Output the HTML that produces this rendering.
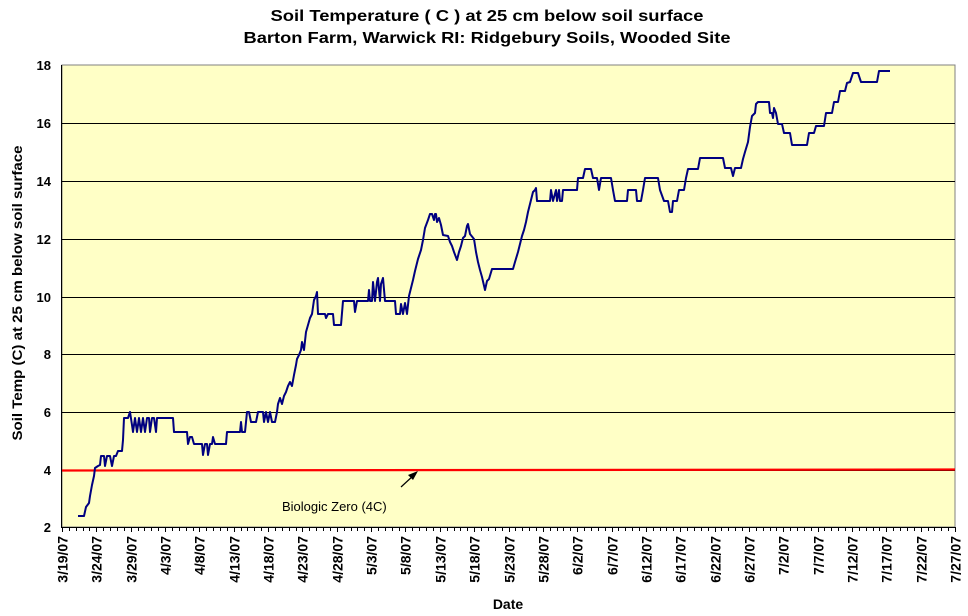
<!DOCTYPE html>
<html><head><meta charset="utf-8"><style>
html,body{margin:0;padding:0;background:#fff;}
svg{display:block;font-family:"Liberation Sans",Arial,sans-serif;}
</style></head><body>
<svg width="968" height="616" viewBox="0 0 968 616" xmlns="http://www.w3.org/2000/svg">
<text x="487" y="21" font-size="16" font-weight="bold" text-anchor="middle" textLength="433" lengthAdjust="spacingAndGlyphs">Soil Temperature ( C ) at 25 cm below soil surface</text>
<text x="487" y="43" font-size="16" font-weight="bold" text-anchor="middle" textLength="487" lengthAdjust="spacingAndGlyphs">Barton Farm, Warwick RI: Ridgebury Soils, Wooded Site</text>
<rect x="62" y="65" width="893" height="462" fill="#ffffc6" stroke="#808080" stroke-width="1"/>
<g stroke="#000" stroke-width="1">
<line x1="62" y1="123.5" x2="955" y2="123.5"/>
<line x1="62" y1="181.5" x2="955" y2="181.5"/>
<line x1="62" y1="239.5" x2="955" y2="239.5"/>
<line x1="62" y1="297.5" x2="955" y2="297.5"/>
<line x1="62" y1="354.5" x2="955" y2="354.5"/>
<line x1="62" y1="412.5" x2="955" y2="412.5"/>
<line x1="62" y1="470.5" x2="955" y2="470.5"/>
<line x1="61.5" y1="65" x2="61.5" y2="527"/>
<line x1="61" y1="527.5" x2="955" y2="527.5"/>
</g>
<g stroke="#000" stroke-width="1" id="ticks"></g>
<g font-size="13" font-weight="bold" text-anchor="end">
<text x="51" y="70">18</text><text x="51" y="128">16</text><text x="51" y="186">14</text>
<text x="51" y="244">12</text><text x="51" y="302">10</text><text x="51" y="359">8</text>
<text x="51" y="417">6</text><text x="51" y="475">4</text><text x="51" y="532">2</text>
</g>
<text transform="translate(22,293) rotate(-90)" font-size="14" font-weight="bold" text-anchor="middle" textLength="295" lengthAdjust="spacingAndGlyphs">Soil Temp (C) at 25 cm below soil surface</text>
<text x="508" y="609" font-size="14" font-weight="bold" text-anchor="middle">Date</text>
<g id="xl" font-size="14" font-weight="bold" text-anchor="end"></g>
<line x1="62" y1="470.5" x2="955" y2="469.5" stroke="#ff0000" stroke-width="2.2"/>
<line x1="401" y1="487" x2="414" y2="475" stroke="#000" stroke-width="1.2"/>
<polygon points="418,471 408,475 413,480" fill="#000"/>
<text x="282" y="511" font-size="13">Biologic Zero (4C)</text>
<polyline fill="none" stroke="#000080" stroke-width="2" stroke-linejoin="round" points="
78,516 84,516 86,507 89,503 90,496 92,485 94,476 95,468 98,466 100,465 101,456 104,456 105,466 107,456 110,456 112,466 114,456 116,456 118,451 122,451 123,440 124,418 128,418 130,412 132,425 133,432 135,418 137,432 139,418 141,432 143,418 145,432 147,418 149,418 150,432 152,418 154,418 156,432 157,418 173,418 174,432 185,432 187,432 188,444 190,437 192,437 194,444 200,444 202,444 203,455 205,444 207,444 208,455 210,444 212,444 213,437 215,444 226,444 227,432 240,432 241,422 242,432 245,432 247,412 249,412 251,422 256,422 258,412 263,412 264,422 266,412 268,422 270,412 272,422 275,422 277,412 278,404 280,398 282,404 284,396 286,392 288,386 290,382 292,386 294,375 296,365 297,359 299,355 301,350 302,342 304,350 306,332 308,325 310,318 312,314 314,300 316,296 317,292 318,314 325,314 326,318 328,314 333,314 334,325 341,325 343,301 354,301 355,312 357,301 368,301 369,290 370,301 372,301 373,282 375,301 377,282 378,278 380,301 381,284 383,278 385,301 388,301 390,301 395,301 396,314 400,314 401,304 403,314 405,303 407,314 409,296 411,288 413,280 415,271 418,259 421,250 423,240 425,228 428,220 430,214 432,214 434,220 435,214 436,214 437,222 439,218 441,225 443,235 448,236 450,242 452,246 454,252 457,260 459,252 461,246 463,238 465,236 467,226 468,224 470,234 474,239 476,252 478,262 480,270 482,277 485,290 487,281 489,279 492,269 513,269 515,262 518,252 520,244 522,236 524,230 526,222 528,212 530,204 531,200 533,192 535,190 536,188 537,201 550,201 551,190 553,201 556,190 557,201 559,190 560,201 562,201 563,190 577,190 578,178 583,178 585,169 591,169 593,178 597,178 599,190 601,178 611,178 613,190 615,201 627,201 628,190 636,190 637,201 641,201 643,190 645,178 658,178 660,190 664,201 668,201 670,212 672,212 673,201 677,201 679,190 684,190 686,178 688,169 698,169 700,158 723,158 725,168 731,168 733,176 735,168 741,168 743,159 745,152 748,142 750,127 752,116 755,113 756,104 758,102 769,102 770,113 772,113 773,118 774,108 776,113 778,124 782,124 784,133 790,133 792,145 807,145 809,133 814,133 816,126 824,126 826,113 832,113 834,102 838,102 840,91 845,91 847,83 850,82 853,73 858,73 861,82 877,82 879,71 890,71"/>
</svg>
<script>
(function(){
var ns="http://www.w3.org/2000/svg";
var t=document.getElementById("ticks"),xl=document.getElementById("xl");
var x0=62,pd=893/130;
var labels=["3/19/07","3/24/07","3/29/07","4/3/07","4/8/07","4/13/07","4/18/07","4/23/07","4/28/07","5/3/07","5/8/07","5/13/07","5/18/07","5/23/07","5/28/07","6/2/07","6/7/07","6/12/07","6/17/07","6/22/07","6/27/07","7/2/07","7/7/07","7/12/07","7/17/07","7/22/07","7/27/07"];
for(var d=0;d<=130;d++){
 var x=Math.round(x0+d*pd)+0.5;
 var l=document.createElementNS(ns,"line");
 l.setAttribute("x1",x);l.setAttribute("x2",x);
 l.setAttribute("y1",527);l.setAttribute("y2",d%5==0?532:531);
 t.appendChild(l);
 if(d%5==0){
  var tx=document.createElementNS(ns,"text");
  tx.setAttribute("transform","translate("+(x+5)+",536) rotate(-90)");
  tx.textContent=labels[d/5];
  xl.appendChild(tx);
 }
}
})();
</script>
</body></html>
